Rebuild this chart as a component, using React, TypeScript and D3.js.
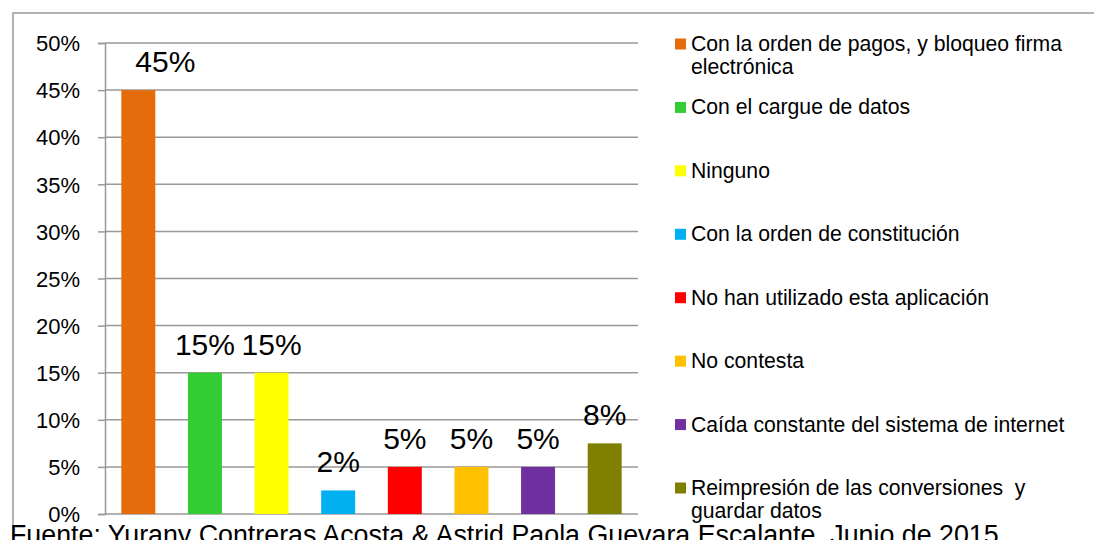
import React, { useEffect, useRef } from 'react';
import * as d3 from 'd3';

const categories = [
  'Con la orden de pagos, y bloqueo firma electrónica',
  'Con el cargue de datos',
  'Ninguno',
  'Con la orden de constitución',
  'No han utilizado esta aplicación',
  'No contesta',
  'Caída constante del sistema de internet',
  'Reimpresión de las conversiones  y guardar datos',
];
const values = [0.45, 0.15, 0.15, 0.025, 0.05, 0.05, 0.05, 0.075];
const valueLabels = ['45%', '15%', '15%', '2%', '5%', '5%', '5%', '8%'];
const colors = ['#E46C0A', '#33CC33', '#FFFF00', '#00B0F0', '#FF0000', '#FFC000', '#7030A0', '#808000'];
const yTicks = [0, 0.05, 0.1, 0.15, 0.2, 0.25, 0.3, 0.35, 0.4, 0.45, 0.5];
const source = 'Fuente: Yurany Contreras Acosta & Astrid Paola Guevara Escalante, Junio de 2015';

const W = 1094;
const H = 540;
const FONT = '"Liberation Sans", Arial, sans-serif';

const App = () => {
  const ref = useRef<SVGSVGElement>(null);

  useEffect(() => {
    const svg = d3.select(ref.current);
    svg.selectAll('*').remove();

    // chart frame
    svg.append('rect')
      .attr('x', 13).attr('y', 13)
      .attr('width', W).attr('height', H)
      .attr('fill', 'none')
      .attr('stroke', '#999')
      .attr('stroke-width', 1.5);

    const x = d3.scaleBand()
      .domain(categories)
      .range([105, 638])
      .paddingInner(0.49)
      .paddingOuter(0.245);

    const y = d3.scaleLinear()
      .domain([0, 0.5])
      .range([514, 43]);

    // gridlines + y axis
    const yAxis = d3.axisLeft(y)
      .tickValues(yTicks)
      .tickFormat(d3.format('.0%'))
      .tickSize(7)
      .tickPadding(18);

    const ga = svg.append('g')
      .attr('transform', 'translate(105,0)')
      .call(yAxis);
    ga.select('.domain').attr('stroke', '#999').attr('stroke-width', 1.5);
    ga.selectAll('.tick line').attr('stroke', '#999').attr('stroke-width', 1.5);
    ga.selectAll('.tick text')
      .attr('font-family', FONT)
      .attr('font-size', 22)
      .attr('fill', '#000')
      .attr('dy', '0.35em');

    svg.append('g')
      .selectAll('line')
      .data(yTicks)
      .enter()
      .append('line')
      .attr('x1', 105).attr('x2', 638)
      .attr('y1', d => y(d)).attr('y2', d => y(d))
      .attr('stroke', '#999')
      .attr('stroke-width', 1.5);

    // bars
    svg.selectAll('.bar')
      .data(values)
      .enter()
      .append('rect')
      .attr('x', (d, i) => x(categories[i]))
      .attr('y', d => y(d))
      .attr('width', x.bandwidth())
      .attr('height', d => y(0) - y(d))
      .attr('fill', (d, i) => colors[i]);

    // data labels (first one nudged right like the original)
    svg.selectAll('.lbl')
      .data(values)
      .enter()
      .append('text')
      .attr('x', (d, i) => x(categories[i]) + x.bandwidth() / 2 + (i === 0 ? 27 : 0))
      .attr('y', d => y(d) - 18)
      .attr('text-anchor', 'middle')
      .attr('font-family', FONT)
      .attr('font-size', 30)
      .attr('fill', '#000')
      .text((d, i) => valueLabels[i]);

    // legend
    const ly = d3.scaleLinear().domain([0, categories.length - 1]).range([44, 488]);
    const lg = svg.append('g');
    categories.forEach((c, i) => {
      const cy = ly(i);
      lg.append('rect')
        .attr('x', 675).attr('y', cy - 5.5)
        .attr('width', 11).attr('height', 11)
        .attr('fill', colors[i]);
      const t = lg.append('text')
        .attr('x', 691)
        .attr('y', cy + 7)
        .attr('font-family', FONT)
        .attr('font-size', 21.2)
        .attr('fill', '#000')
        .style('white-space', 'pre');
      const words = c.split(' ');
      let line: string[] = [];
      let ts = t.append('tspan').attr('x', 691).attr('dy', 0);
      words.forEach(w => {
        line.push(w);
        ts.text(line.join(' '));
        const node = ts.node() as SVGTextContentElement;
        if (node.getComputedTextLength() > 395 && line.length > 1) {
          line.pop();
          ts.text(line.join(' '));
          line = [w];
          ts = t.append('tspan').attr('x', 691).attr('dy', 23).text(w);
        }
      });
    });

    // source note
    svg.append('text')
      .attr('x', 10)
      .attr('y', 544)
      .attr('font-family', FONT)
      .attr('font-size', 26.8)
      .attr('fill', '#000')
      .text(source);
  }, []);

  return (
    <svg ref={ref} width={W} height={H}
      style={{ position: 'absolute', left: 0, top: 0, background: '#fff' }} />
  );
};

export default App;
